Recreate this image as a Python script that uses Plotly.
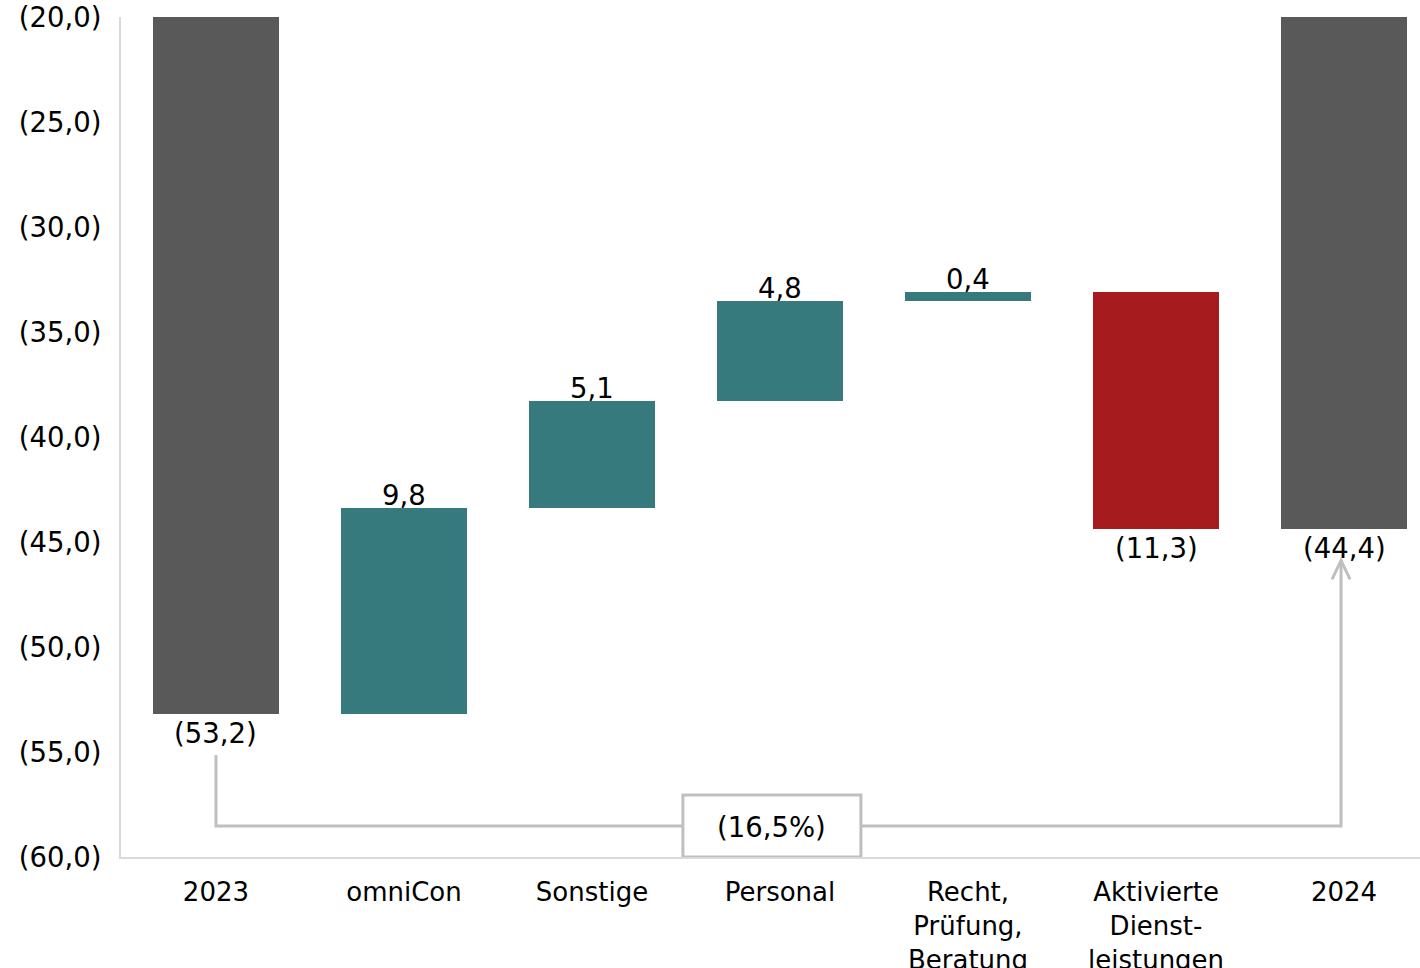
import plotly.graph_objects as go

# Waterfall data (EUR m, negative = expense)
categories = ["2023", "omniCon", "Sonstige", "Personal",
              "Recht,<br>Prüfung,<br>Beratung", "Aktivierte<br>Dienst-<br>leistungen", "2024"]
start_value = -53.2
deltas = [9.8, 5.1, 4.8, 0.4, -11.3]
end_value = -44.4
y_ticks = [-60, -55, -50, -45, -40, -35, -30, -25, -20]

GREY = "#595959"
TEAL = "#377A7E"
RED = "#A61C1E"
LINE = "#BFBFBF"
AXIS = "#D9D9D9"
FONT = "DejaVu Sans"
FS_CAT = 26
FS_NUM = 27.5

W, H = 1420, 968
M_L, M_R, M_T, M_B = 121, 0, 17, 111
YMIN, YMAX = -60, -20
XMIN, XMAX = -0.505, 6.404
px_y = (H - M_T - M_B) / (YMAX - YMIN)   # pixels per y unit
px_x = (W - M_L - M_R) / (XMAX - XMIN)   # pixels per category


def fmt(v, pct=False):
    s = f"{abs(v):.1f}".replace(".", ",") + ("%" if pct else "")
    return f"({s})" if v < 0 else s


# bar geometry from cumulative sums
bases, heights, colors = [0], [start_value], [GREY]
level = start_value
for d in deltas:
    bases.append(level)
    heights.append(d)
    colors.append(TEAL if d > 0 else RED)
    level += d
bases.append(0)
heights.append(end_value)
colors.append(GREY)

xs = list(range(len(categories)))

fig = go.Figure(go.Bar(
    x=xs, y=heights, base=bases, width=0.67,
    marker=dict(color=colors, line=dict(width=0)),
    hoverinfo="skip", showlegend=False,
))

annotations = []
# value labels
label_vals = [start_value] + deltas + [end_value]
for i, v in enumerate(label_vals):
    if i in (0, len(label_vals) - 1):
        y_at, anchor = v, "top"
    elif v > 0:
        y_at, anchor = bases[i] + v, "bottom"
    else:
        y_at, anchor = bases[i] + v, "top"
    annotations.append(dict(
        x=i, y=y_at, text=fmt(v), showarrow=False, yanchor=anchor,
        yshift=(-5 if anchor == "bottom" else -1),
        font=dict(family=FONT, size=FS_NUM, color="#000000"),
    ))

# bracket from 2023 to 2024 with change rate
change = (abs(end_value) - abs(start_value)) / abs(start_value) * 100
x0, x1 = 0, len(categories) - 1 - 3 / px_x
y_start = start_value - 41 / px_y
y_bracket = YMIN + 31 / px_y
y_tip = end_value - 31 / px_y

shapes = [
    dict(type="path", xref="x", yref="y",
         path=f"M {x0} {y_start} L {x0} {y_bracket} L {x1} {y_bracket} L {x1} {y_tip}",
         line=dict(color=LINE, width=3)),
    dict(type="path", xref="x", yref="y",
         path=(f"M {x1 - 9 / px_x} {y_tip - 19 / px_y} L {x1} {y_tip} "
               f"L {x1 + 9 / px_x} {y_tip - 19 / px_y}"),
         line=dict(color=LINE, width=3)),
]
box_cx = 2.957
box_half = 89 / px_x
shapes.append(dict(type="rect", xref="x", yref="y",
                   x0=box_cx - box_half, x1=box_cx + box_half,
                   y0=YMIN, y1=YMIN + 62 / px_y,
                   fillcolor="white", line=dict(color=LINE, width=3)))
annotations.append(dict(
    x=box_cx, y=YMIN + 31 / px_y, text=fmt(change, pct=True), showarrow=False,
    yanchor="middle", yshift=-1, font=dict(family=FONT, size=FS_NUM, color="#000000"),
))

fig.update_layout(
    width=W, height=H,
    margin=dict(l=M_L, r=M_R, t=M_T, b=M_B, pad=0),
    paper_bgcolor="white", plot_bgcolor="white",
    font=dict(family=FONT, size=FS_CAT, color="#000000"),
    shapes=shapes, annotations=annotations,
    bargap=0,
)
fig.update_xaxes(
    range=[XMIN, XMAX], tickvals=xs, ticktext=categories, automargin=False,
    showgrid=False, zeroline=False, showline=True, linecolor=AXIS, linewidth=2,
    ticks="", ticklabelstandoff=11, tickfont=dict(family=FONT, size=FS_CAT, color="#000000"),
)
fig.update_yaxes(
    range=[YMIN, YMAX], tickvals=y_ticks, ticktext=[fmt(v) for v in y_ticks], automargin=False,
    showgrid=False, zeroline=False, showline=True, linecolor=AXIS, linewidth=2,
    ticks="", ticklabelstandoff=12, tickfont=dict(family=FONT, size=FS_NUM, color="#000000"),
)

fig.write_html("out.html")
